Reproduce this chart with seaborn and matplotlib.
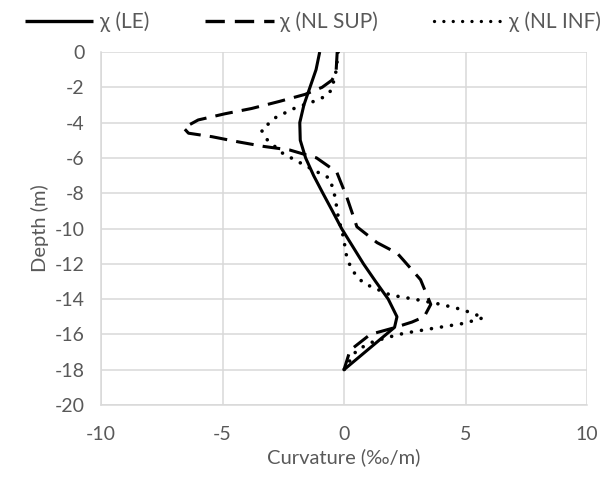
import matplotlib
matplotlib.use("Agg")
import matplotlib.pyplot as plt
import seaborn as sns
import pandas as pd
import numpy as np

# ---- data ----
le_depth = [0, -1, -2, -3, -4, -5, -6, -7, -8, -9, -10, -11, -12, -13, -14, -15, -15.6, -18]
le_curv = [-1.0, -1.15, -1.4, -1.65, -1.82, -1.8, -1.58, -1.25, -0.87, -0.48, -0.1, 0.35, 0.8, 1.3, 1.82, 2.18, 2.08, 0.0]

sup_depth = [0, -1.2, -1.6, -2.0, -2.4, -2.8, -3.2, -3.5, -3.85, -4.3, -4.6, -4.8, -5.1, -5.35, -5.55, -6.0,
             -6.8, -7.25, -8.2, -9.9, -10.8, -11.4, -11.8, -12.9, -14.3, -15.0, -15.3, -15.65, -16.0, -16.9, -18.0]
sup_curv = [-0.28, -0.33, -0.5, -0.9, -1.6, -2.66, -3.8, -4.9, -6.0, -6.6, -6.4, -5.43, -4.32, -3.3, -2.24, -1.13,
            -0.3, -0.17, 0.11, 0.53, 1.36, 2.19, 2.45, 3.15, 3.57, 3.3, 2.8, 2.0, 1.08, 0.25, 0.0]

inf_depth = [0, -1.1, -2.15, -2.53, -2.81, -3.19, -3.7, -4.42, -4.99, -5.74, -6.31, -6.87, -7.16, -8.2, -9.33,
             -10.46, -11.6, -12.35, -13.1, -13.77, -14.0, -14.3, -14.6, -15.05, -15.37, -15.65, -15.94, -16.13,
             -16.4, -16.88, -18.0]
inf_curv = [-0.24, -0.33, -0.51, -0.79, -1.27, -2.04, -2.8, -3.4, -3.15, -2.52, -1.76, -1.0, -0.58, -0.37, -0.24,
            -0.03, 0.11, 0.32, 0.8, 1.91, 2.88, 3.99, 4.88, 5.75, 4.95, 3.7, 2.46, 1.91, 1.22, 0.53, 0.0]

labels = ["χ (LE)", "χ (NL SUP)", "χ (NL INF)"]
x_ticks = [-10, -5, 0, 5, 10]
y_ticks = list(range(0, -21, -2))

# ---- style ----
sns.set_theme(style="white")
plt.rcParams["font.family"] = ["Lato", "DejaVu Sans"]
plt.rcParams["axes.unicode_minus"] = False
grey = "#595959"

fig = plt.figure(figsize=(6.01, 4.79), dpi=100)
ax = fig.add_axes([101 / 601, 1 - 405 / 479, 486 / 601, 353 / 479])

lw = 2.2
sns.lineplot(x=le_curv, y=le_depth, sort=False, estimator=None, ax=ax, color="black",
             linewidth=lw, linestyle="-", label=labels[0])
sns.lineplot(x=sup_curv, y=sup_depth, sort=False, estimator=None, ax=ax, color="black",
             linewidth=lw, linestyle=(0, (5.8, 3.0)), label=labels[1])
sns.lineplot(x=inf_curv, y=inf_depth, sort=False, estimator=None, ax=ax, color="black",
             linewidth=2.6, linestyle=(0, (0.01, 2.8)), label=labels[2])
for ln in ax.lines:
    ln.set_solid_capstyle("butt")
ax.lines[2].set_dash_capstyle("round")
ax.lines[1].set_dash_capstyle("butt")

ax.set_xlim(-10, 10)
ax.set_ylim(-20, 0)
ax.set_xticks(x_ticks)
ax.set_yticks(y_ticks)
ax.grid(True, color="#d9d9d9", linewidth=1.1)
ax.set_axisbelow(True)
for side in ["top", "right"]:
    ax.spines[side].set_visible(False)
for side in ["left", "bottom"]:
    ax.spines[side].set_color("#d9d9d9")
    ax.spines[side].set_linewidth(1.1)
ax.tick_params(axis="both", length=0, labelsize=14, colors=grey)
ax.tick_params(axis="x", pad=15)
ax.tick_params(axis="y", pad=12)
ax.set_xlabel("Curvature (‰/m)", fontsize=14.5, color=grey, labelpad=4)
ax.set_ylabel("Depth (m)", fontsize=14.5, color=grey, labelpad=4)

ax.get_legend().remove()
handles, labs = ax.get_legend_handles_labels()
leg = fig.legend(handles, labs, loc="center", bbox_to_anchor=(313 / 601, 1 - 22 / 479), ncol=3,
                 frameon=False, fontsize=15, handlelength=3.3, handletextpad=0.3, columnspacing=2.7,
                 labelcolor=grey)
for h in leg.get_lines():
    h.set_linewidth(2.4)

fig.savefig("out.png", dpi=100)
